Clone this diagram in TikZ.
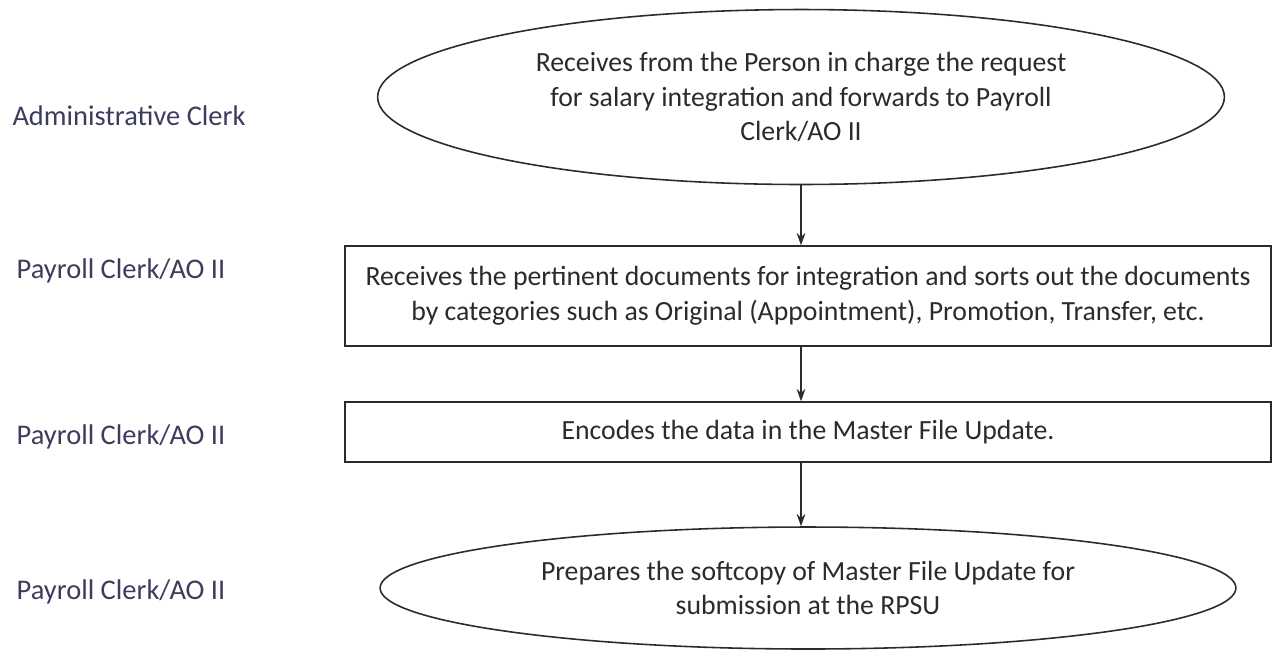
\documentclass[tikz,border=0pt]{standalone}
\usepackage{fontspec}
\setmainfont{Carlito}
\usetikzlibrary{shapes.geometric,arrows.meta}

\definecolor{rolecol}{HTML}{3C3C5E}
\definecolor{inkcol}{HTML}{2B2B2B}

\begin{document}
\begin{tikzpicture}[x=0.02cm, y=-0.02cm,
    role/.style={text=rolecol, font=\fontsize{16.2}{19}\selectfont},
    task/.style={draw=inkcol, line width=0.9pt, align=center, text=inkcol, inner sep=0pt,
                 font=\fontsize{15.8}{19.8}\selectfont},
    taskbox/.style={task, rectangle, minimum width=18.52cm},
    taskoval/.style={task, ellipse},
    flow/.style={draw=inkcol, line width=0.8pt, -{Stealth[length=7pt, width=5pt]}}]
    \useasboundingbox (0,0) rectangle (1273,657);

    % roles on the left
    \node (r1) at (129, 116) [role] {Administrative Clerk};
    \node (r2) at (121, 271) [role] {Payroll Clerk/AO II};
    \node (r3) at (121, 437) [role] {Payroll Clerk/AO II};
    \node (r4) at (121, 592) [role] {Payroll Clerk/AO II};

    % steps
    \node (t1) at (801, 97) [taskoval, minimum width=16.94cm, minimum height=3.5cm]
        {Receives from the Person in charge the request\\ for salary integration and forwards to Payroll\\ Clerk/AO II};
    \node (t2) at (808, 296) [taskbox, minimum height=2cm]
        {Receives the pertinent documents for integration and sorts out the documents\\ by categories such as Original (Appointment), Promotion, Transfer, etc.};
    \node (t3) at (808, 432) [taskbox, minimum height=1.2cm]
        {Encodes the data in the Master File Update.};
    \node (t4) at (808, 588) [taskoval, minimum width=17.12cm, minimum height=2.44cm]
        {Prepares the softcopy of Master File Update for\\ submission at the RPSU};

    \draw[flow] (t1.south) -- (t1 |- t2.north);
    \draw[flow] (t1 |- t2.south) -- (t1 |- t3.north);
    \draw[flow] (t1 |- t3.south) -- (t1 |- t4.north);
\end{tikzpicture}
\end{document}
